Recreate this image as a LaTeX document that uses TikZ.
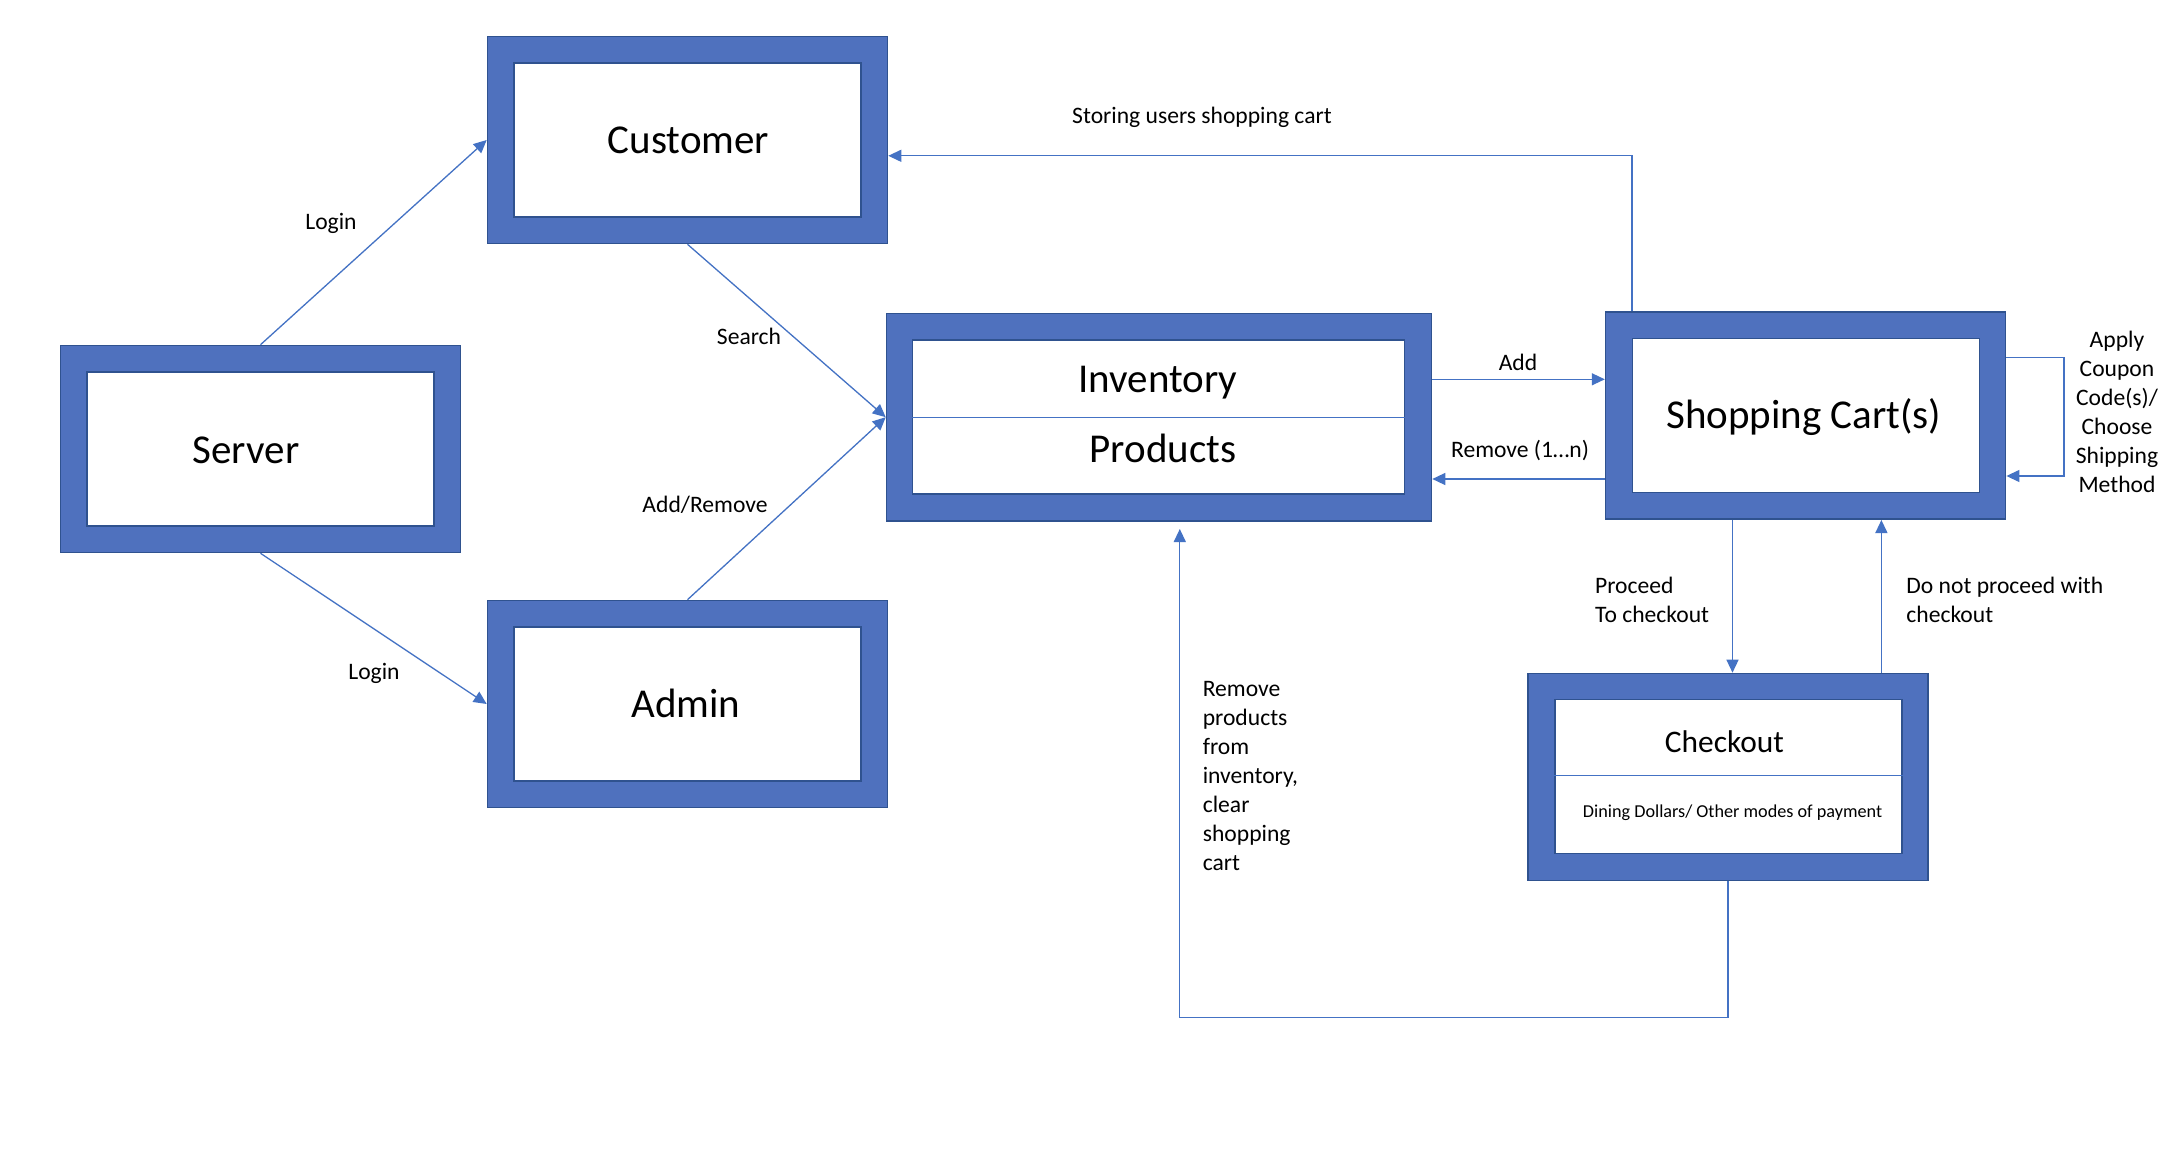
\documentclass[tikz,border=0pt]{standalone}
\usepackage{fontspec}
\setmainfont{Carlito}
\usetikzlibrary{arrows.meta,calc}
\definecolor{boxblue}{HTML}{4F71BE}
\definecolor{boxedge}{HTML}{2F528F}
\definecolor{linkblue}{HTML}{4472C4}
\begin{document}
\begin{tikzpicture}[x=0.5pt,y=-0.5pt,
  outerbox/.style={draw=boxedge, line width=0.8pt, fill=boxblue, minimum width=200pt, minimum height=103.5pt, inner sep=0pt},
  innerbox/.style={draw=boxedge, line width=0.6pt, fill=white, minimum width=173.5pt, minimum height=77pt, inner sep=0pt},
  bigtext/.style={font=\fontsize{20.5}{24}\selectfont, inner sep=0pt},
  lbl/.style={font=\fontsize{11.8}{14.5}\selectfont, inner sep=0pt},
  link/.style={draw=linkblue, line width=0.65pt},
  arr/.style={link, -{Triangle[length=6.5pt,width=6pt]}}
]
\useasboundingbox (0,0) rectangle (2170,1166);
\fill[white] (0,0) rectangle (2170,1166);

% boxes
\node[outerbox] (customer) at (687.5,140) {};
\node[innerbox] (customerin) at (customer) {};
\node[bigtext] (customertxt) at (688.5,140.5) {Customer};

\node[outerbox] (server) at (260.5,449) {};
\node[innerbox] (serverin) at (server) {};
\node[bigtext] (servertxt) at (246,450) {Server};

\node[outerbox] (admin) at (687.5,704) {};
\node[innerbox] (adminin) at (admin) {};
\node[bigtext] (admintxt) at (686,703) {Admin};

\node[outerbox, minimum width=272.5pt] (inventory) at (1159,417.2) {};
\node[innerbox, minimum width=246pt] (inventoryin) at (1158.5,417) {};
\coordinate (invdiv) at (0,417.5);
\draw[link] (inventoryin.west |- invdiv) -- (inventoryin.east |- invdiv);
\node[bigtext] (invtxt) at (1158,383) {Inventory};
\node[bigtext] (prodtxt) at (1163,448) {Products};

\node[outerbox] (cart) at (1805.6,415.7) {};
\node[innerbox] (cartin) at (cart) {};
\node[bigtext] (carttxt) at (1804,417) {Shopping Cart(s)};

\node[outerbox] (checkout) at (1728,777) {};
\node[innerbox] (checkoutin) at (1728.5,776.7) {};
\coordinate (chkdiv) at (0,775.5);
\draw[link] (checkoutin.west |- chkdiv) -- (checkoutin.east |- chkdiv);
\node[font=\fontsize{15.7}{19}\selectfont, inner sep=0pt] (chktxt) at (1724.4,741.5) {Checkout};
\node[font=\fontsize{9.1}{11}\selectfont, inner sep=0pt] (paytxt) at (1732.6,812.5) {Dining Dollars/ Other modes of payment};

% connectors
\draw[arr] (server.north) -- (customer.west);
\draw[arr] (server.south) -- (admin.west);
\draw[arr] (customer.south) -- (inventory.west);
\draw[arr] (admin.north) -- (inventory.west);

\coordinate (st) at (1632,155.8);
\draw[arr] (cart.north -| st) |- (customer.east |- st);

\coordinate (addy) at (0,379.3);
\coordinate (remy) at (0,479);
\draw[arr] (inventory.east |- addy) -- (cart.west |- addy);
\draw[arr] (cart.west |- remy) -- (inventory.east |- remy);

\coordinate (ly1) at (0,357.5);
\coordinate (ly2) at (0,476);
\coordinate (loopx) at (2064,0);
\draw[arr] (cart.east |- ly1) -| (loopx |- ly2) -- (cart.east |- ly2);

\coordinate (px) at (1732.5,0);
\coordinate (nx) at (1881.4,0);
\draw[arr] (cart.south -| px) -- (checkout.north -| px);
\draw[arr] (checkout.north -| nx) -- (cart.south -| nx);

\coordinate (by) at (0,1017.6);
\coordinate (bx) at (1179.8,0);
\draw[arr, shorten >=3.75pt] (checkout.south) |- (bx |- by) -- (inventory.south -| bx);

% labels
\node[lbl] (lstore) at (1202,117) {Storing users shopping cart};
\node[lbl] (llogin1) at (331,223) {Login};
\node[lbl] (lsearch) at (749,336) {Search};
\node[lbl] (laddrem) at (705,505) {Add/Remove};
\node[lbl] (llogin2) at (374,673) {Login};
\node[lbl] (ladd) at (1518,362) {Add};
\node[lbl] (lrem) at (1520,451) {Remove (1…n)};
\node[lbl, align=center] (lcoupon) at (2117,411.5) {Apply\\Coupon\\Code(s)/\\Choose\\Shipping\\Method};
\node[lbl, align=left, anchor=west] (lproceed) at (1594.7,600) {Proceed\\To checkout};
\node[lbl, align=left, anchor=west] (lnot) at (1906,600) {Do not proceed with\\checkout};
\node[lbl, align=left, anchor=west] (lremprod) at (1202.4,776) {Remove\\products\\from\\inventory,\\clear\\shopping\\cart};
\end{tikzpicture}
\end{document}
